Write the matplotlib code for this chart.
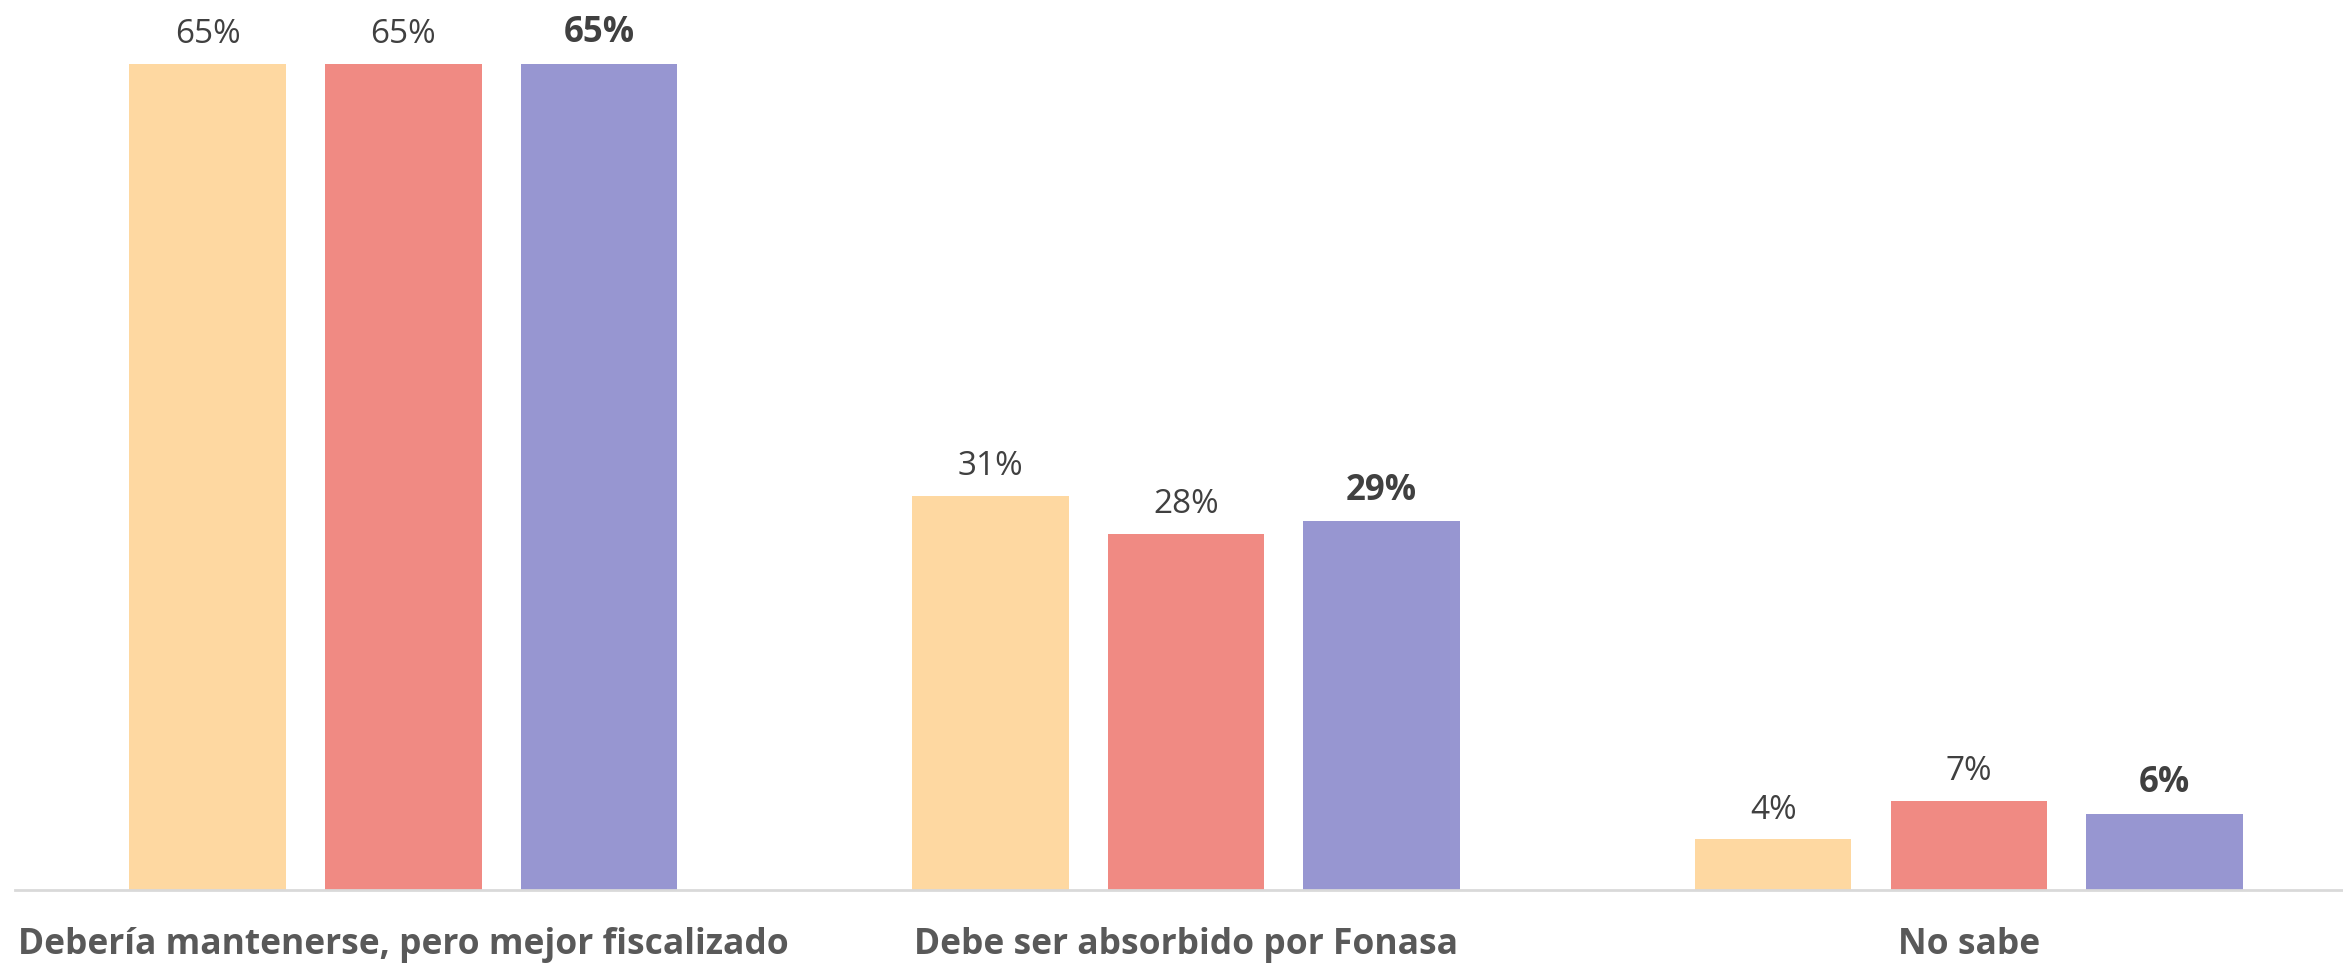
import matplotlib
matplotlib.use("Agg")
import matplotlib.pyplot as plt
import numpy as np

categories = ["Debería mantenerse, pero mejor fiscalizado", "Debe ser absorbido por Fonasa", "No sabe"]
series_a = [65, 31, 4]
series_b = [65, 28, 7]
series_c = [65, 29, 6]
colors = ["#FED8A1", "#F08A83", "#9796D1"]

plt.rcParams['font.family'] = ['Open Sans', 'DejaVu Sans']

fig = plt.figure(figsize=(23.43, 9.68), dpi=100)
ax = fig.add_axes([0.0064, 0.0806, 0.9936, 0.9194])

x = np.arange(len(categories))
offsets = [-0.25, 0.0, 0.25]
width = 0.2
for i, (vals, col) in enumerate(zip([series_a, series_b, series_c], colors)):
    bars = ax.bar(x + offsets[i], vals, width, color=col, zorder=2)
    for b, v in zip(bars, vals):
        ax.annotate(f"{v}%", (b.get_x() + b.get_width() / 2, v),
                    xytext=(0, 9), textcoords="offset points",
                    ha="center", va="bottom",
                    fontsize=25 if i == 2 else 24,
                    fontweight="bold" if i == 2 else "normal",
                    color="#404040")

ax.set_xlim(-0.496, 2.478)
ax.set_ylim(0, 70)
ax.set_yticks([])
ax.set_xticks(x)
ax.set_xticklabels(categories, fontsize=25.5, fontweight="bold", color="#595959")
ax.tick_params(axis="x", length=0, pad=27)
for s in ["top", "right", "left"]:
    ax.spines[s].set_visible(False)
ax.spines["bottom"].set_color("#D9D9D9")
ax.spines["bottom"].set_linewidth(2)

fig.savefig("out.png", dpi=100)
